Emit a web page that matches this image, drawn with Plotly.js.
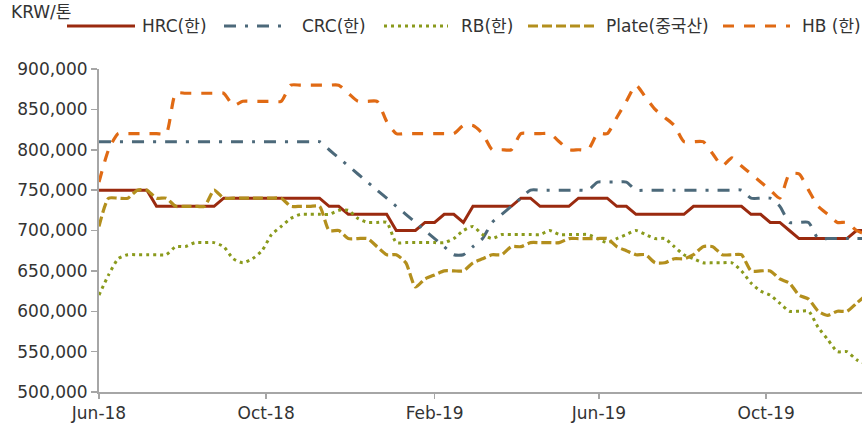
<!DOCTYPE html>
<html>
<head>
<meta charset="utf-8">
<script src="https://cdn.plot.ly/plotly-3.0.1.min.js"></script>
<style>
  html, body { margin: 0; padding: 0; background: #fff; }
  #chart { width: 862px; height: 427px; }
</style>
</head>
<body>
<div id="chart"></div>
<script>
// weekly prices, KRW per ton, first week = 2018-06-01
const startDate = '2018-06-01';

const hrc = [
    750000, 750000, 750000, 750000, 750000, 750000, 730000, 730000, 730000, 730000,
    730000, 730000, 730000, 740000, 740000, 740000, 740000, 740000, 740000, 740000,
    740000, 740000, 740000, 740000, 730000, 730000, 720000, 720000, 720000, 720000,
    720000, 700000, 700000, 700000, 710000, 710000, 720000, 720000, 710000, 730000,
    730000, 730000, 730000, 730000, 740000, 740000, 730000, 730000, 730000, 730000,
    740000, 740000, 740000, 740000, 730000, 730000, 720000, 720000, 720000, 720000,
    720000, 720000, 730000, 730000, 730000, 730000, 730000, 730000, 720000, 720000,
    710000, 710000, 700000, 690000, 690000, 690000, 690000, 690000, 690000, 700000,
    700000
];

const crc = [
    810000, 810000, 810000, 810000, 810000, 810000, 810000, 810000, 810000, 810000,
    810000, 810000, 810000, 810000, 810000, 810000, 810000, 810000, 810000, 810000,
    810000, 810000, 810000, 810000, 800000, 790000, 780000, 770000, 760000, 750000,
    740000, 730000, 720000, 710000, 700000, 690000, 680000, 670000, 670000, 680000,
    690000, 710000, 720000, 730000, 740000, 750000, 750000, 750000, 750000, 750000,
    750000, 750000, 760000, 760000, 760000, 760000, 750000, 750000, 750000, 750000,
    750000, 750000, 750000, 750000, 750000, 750000, 750000, 750000, 740000, 740000,
    740000, 730000, 710000, 710000, 710000, 690000, 690000, 690000, 690000, 690000,
    690000
];

const rb = [
    620000, 645000, 665000, 670000, 670000, 670000, 670000, 670000, 680000, 680000,
    685000, 685000, 685000, 680000, 665000, 660000, 665000, 675000, 695000, 705000,
    715000, 720000, 720000, 720000, 720000, 725000, 725000, 715000, 710000, 710000,
    710000, 685000, 685000, 685000, 685000, 685000, 685000, 690000, 700000, 705000,
    695000, 690000, 695000, 695000, 695000, 695000, 695000, 700000, 695000, 695000,
    695000, 695000, 690000, 685000, 690000, 695000, 700000, 695000, 690000, 690000,
    680000, 670000, 665000, 660000, 660000, 660000, 660000, 650000, 635000, 625000,
    620000, 610000, 600000, 600000, 600000, 580000, 565000, 550000, 550000, 540000,
    535000
];

const plate = [
    705000, 740000, 740000, 740000, 750000, 750000, 740000, 740000, 730000, 730000,
    730000, 730000, 750000, 740000, 740000, 740000, 740000, 740000, 740000, 740000,
    730000, 730000, 730000, 730000, 700000, 700000, 690000, 690000, 690000, 680000,
    670000, 670000, 660000, 630000, 640000, 645000, 650000, 650000, 650000, 660000,
    665000, 670000, 670000, 680000, 680000, 685000, 685000, 685000, 685000, 690000,
    690000, 690000, 690000, 690000, 680000, 675000, 670000, 670000, 660000, 660000,
    665000, 665000, 670000, 680000, 680000, 670000, 670000, 670000, 650000, 650000,
    650000, 640000, 635000, 620000, 615000, 600000, 595000, 600000, 600000, 610000,
    620000
];

const hb = [
    760000, 800000, 820000, 820000, 820000, 820000, 820000, 820000, 870000, 870000,
    870000, 870000, 870000, 870000, 855000, 860000, 860000, 860000, 860000, 860000,
    880000, 880000, 880000, 880000, 880000, 880000, 870000, 860000, 860000, 860000,
    835000, 820000, 820000, 820000, 820000, 820000, 820000, 820000, 830000, 830000,
    820000, 800000, 800000, 800000, 820000, 820000, 820000, 820000, 810000, 800000,
    800000, 800000, 820000, 820000, 840000, 860000, 880000, 865000, 850000, 840000,
    830000, 810000, 810000, 810000, 795000, 780000, 790000, 780000, 770000, 760000,
    750000, 740000, 770000, 770000, 750000, 730000, 720000, 710000, 710000, 700000,
    695000
];

const xTickVals = ['2018-06-01', '2018-10-01', '2019-02-01', '2019-06-01', '2019-10-01'];
const xTickText = ['Jun-18', 'Oct-18', 'Feb-19', 'Jun-19', 'Oct-19'];
const yTickVals = [500000, 550000, 600000, 650000, 700000, 750000, 800000, 850000, 900000];

// weekly dates
function weekDates(start, n) {
    const [y, m, d] = start.split('-').map(Number);
    const out = [];
    for (let i = 0; i < n; i++) {
        out.push(new Date(Date.UTC(y, m - 1, d + 7 * i)).toISOString().slice(0, 10));
    }
    return out;
}
const dates = weekDates(startDate, hrc.length);

const FONT = '"DejaVu Sans", "Noto Sans CJK KR", sans-serif';
const TXT = '#333333';

// plot box in px (used for the hand-made legend)
const L = 99, T = 69, W = 763, H = 323;
const px = x => (x - L) / W;
const py = y => (T + H - y) / H;

const series = [
    { name: 'HRC(한)',      y: hrc,   color: '#9A2A0F', dash: 'solid',              width: 3,   shape: 'linear', lx: [67, 135],  tx: 140 },
    { name: 'CRC(한)',      y: crc,   color: '#4C697A', dash: '12px,9px,3px,9px',   width: 3,   shape: 'spline', lx: [224, 284], tx: 300 },
    { name: 'RB(한)',       y: rb,    color: '#8A9A1C', dash: '3px,4px',            width: 3,   shape: 'spline', lx: [384, 448], tx: 459 },
    { name: 'Plate(중국산)', y: plate, color: '#B38F1D', dash: '10px,4px',           width: 3.2, shape: 'spline', lx: [528, 596], tx: 604 },
    { name: 'HB (한)',      y: hb,    color: '#E06A14', dash: '11px,10px',          width: 3.2, shape: 'spline', lx: [723, 790], tx: 800 },
];

const data = series.map(s => ({
    x: dates,
    y: s.y,
    type: 'scatter',
    mode: 'lines',
    name: s.name,
    line: { color: s.color, width: s.width, dash: s.dash, shape: s.shape, smoothing: 0.6 },
    hoverinfo: 'x+y',
}));

const legY = 26;
const shapes = series.map(s => ({
    type: 'line', xref: 'paper', yref: 'paper',
    x0: px(s.lx[0]), x1: px(s.lx[1]), y0: py(legY), y1: py(legY),
    line: { color: s.color, width: s.width, dash: s.dash },
}));

const annotations = series.map(s => ({
    xref: 'paper', yref: 'paper', x: px(s.tx), y: py(legY),
    xanchor: 'left', yanchor: 'middle', showarrow: false,
    text: s.name, font: { family: FONT, size: 17, color: TXT },
}));
annotations.push({
    xref: 'paper', yref: 'paper', x: px(9), y: py(12),
    xanchor: 'left', yanchor: 'middle', showarrow: false,
    text: 'KRW/톤', font: { family: FONT, size: 17, color: TXT },
});

const layout = {
    width: 862,
    height: 427,
    margin: { l: L, r: 862 - L - W, t: T, b: 427 - T - H },
    paper_bgcolor: '#ffffff',
    plot_bgcolor: '#ffffff',
    showlegend: false,
    font: { family: FONT, size: 17, color: TXT },
    xaxis: {
        type: 'date',
        range: ['2018-06-01', '2019-12-10'],
        tickmode: 'array',
        tickvals: xTickVals,
        ticktext: xTickText,
        ticks: 'outside',
        ticklen: 5,
        tickwidth: 1.5,
        tickcolor: '#A6A6A6',
        showline: true,
        linecolor: '#A6A6A6',
        linewidth: 2,
        showgrid: false,
        zeroline: false,
        tickfont: { family: FONT, size: 17, color: TXT },
    },
    yaxis: {
        range: [500000, 900000],
        tickmode: 'array',
        tickvals: yTickVals,
        tickformat: ',d',
        ticks: 'outside',
        ticklen: 6,
        tickwidth: 1.5,
        tickcolor: '#A6A6A6',
        showline: true,
        linecolor: '#A6A6A6',
        linewidth: 2,
        showgrid: false,
        zeroline: false,
        tickfont: { family: FONT, size: 17, color: TXT },
    },
    shapes: shapes,
    annotations: annotations,
};

Plotly.newPlot('chart', data, layout, { displayModeBar: false, staticPlot: true });
</script>
</body>
</html>
